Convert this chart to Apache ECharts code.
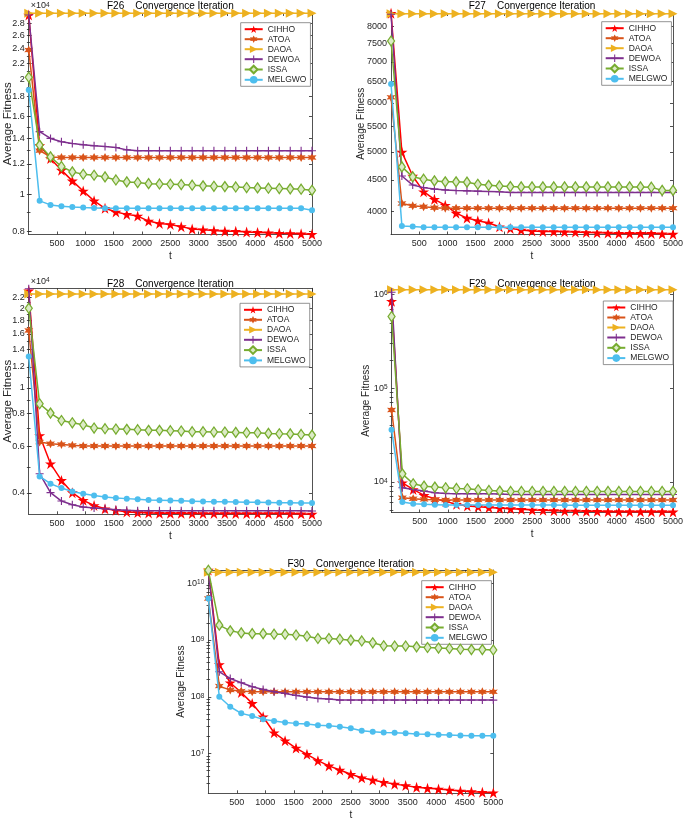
<!DOCTYPE html>
<html>
<head>
<meta charset="utf-8">
<script src="https://cdn.jsdelivr.net/npm/echarts@6/dist/echarts.min.js"></script>
<style>
  html, body { margin: 0; padding: 0; background: #fff; }
  #chart { width: 685px; height: 821px; }
</style>
</head>
<body>
<div id="chart"></div>
<script>
// iterations where markers sit
const iters = [1, 193, 385, 578, 770, 962, 1154, 1347, 1539, 1731, 1923, 2116, 2308, 2500,
  2692, 2885, 3077, 3269, 3462, 3654, 3846, 4039, 4231, 4423, 4616, 4808, 5000]
const algos = ['CIHHO', 'ATOA', 'DAOA', 'DEWOA', 'ISSA', 'MELGWO']
const xTicks = [500, 1000, 1500, 2000, 2500, 3000, 3500, 4000, 4500, 5000]

// F26
const f26Cihho = [29400, 13400, 12400, 11560, 10840, 10200, 9610, 9190, 8990, 8860, 8770, 8510, 8390, 8340,
  8230, 8110, 8080, 8040, 8010, 8000, 7970, 7950, 7930, 7910, 7900, 7880, 7860]
const f26Atoa = [23800, 13000, 12520, 12470, 12470, 12470, 12470, 12470, 12470, 12470, 12470, 12470, 12470, 12470,
  12470, 12470, 12470, 12470, 12470, 12470, 12470, 12470, 12470, 12470, 12470, 12470, 12470]
const f26Daoa = [29700, 29700, 29700, 29700, 29700, 29700, 29700, 29700, 29700, 29700, 29700, 29700, 29700, 29700,
  29700, 29700, 29700, 29700, 29700, 29700, 29700, 29700, 29700, 29700, 29700, 29700, 29700]
const f26Dewoa = [29400, 14570, 13990, 13710, 13570, 13470, 13390, 13330, 13250, 13060, 12990, 12990, 12990, 12990,
  12990, 12990, 12990, 12990, 12990, 12990, 12990, 12990, 12990, 12990, 12990, 12990, 12990]
const f26Issa = [20220, 13440, 12520, 11820, 11440, 11280, 11210, 11100, 10900, 10770, 10730, 10660, 10640, 10620,
  10600, 10560, 10520, 10490, 10470, 10450, 10410, 10390, 10370, 10350, 10330, 10310, 10240]
const f26Melgwo = [18730, 9610, 9380, 9300, 9260, 9230, 9210, 9190, 9190, 9190, 9190, 9190, 9190, 9190,
  9190, 9190, 9190, 9190, 9190, 9190, 9190, 9190, 9190, 9190, 9190, 9190, 9080]
const f26Ticks = [8000, 10000, 12000, 14000, 16000, 18000, 20000, 22000, 24000, 26000, 28000]

// F27
const f27Cihho = [8390, 4994, 4567, 4307, 4186, 4095, 3975, 3902, 3864, 3830, 3778, 3755, 3731, 3720,
  3712, 3712, 3707, 3703, 3698, 3694, 3689, 3685, 3685, 3685, 3685, 3680, 3675]
const f27Atoa = [6128, 4120, 4085, 4070, 4055, 4050, 4050, 4050, 4050, 4050, 4050, 4050, 4050, 4050,
  4050, 4050, 4050, 4050, 4050, 4050, 4050, 4050, 4050, 4050, 4050, 4050, 4050]
const f27Daoa = [8380, 8380, 8380, 8380, 8380, 8380, 8380, 8380, 8380, 8380, 8380, 8380, 8380, 8380,
  8380, 8380, 8380, 8380, 8380, 8380, 8380, 8380, 8380, 8380, 8380, 8380, 8380]
const f27Dewoa = [8360, 4567, 4415, 4373, 4349, 4336, 4326, 4321, 4316, 4311, 4305, 4295, 4295, 4295,
  4295, 4295, 4295, 4295, 4295, 4295, 4295, 4295, 4295, 4295, 4295, 4295, 4295]
const f27Issa = [7565, 4725, 4553, 4513, 4484, 4468, 4468, 4463, 4428, 4410, 4400, 4390, 4385, 4385,
  4385, 4385, 4385, 4385, 4385, 4385, 4385, 4385, 4385, 4385, 4380, 4328, 4328]
const f27Melgwo = [6440, 3790, 3780, 3771, 3771, 3771, 3771, 3771, 3771, 3771, 3771, 3771, 3771, 3771,
  3771, 3771, 3771, 3771, 3771, 3771, 3771, 3771, 3771, 3771, 3771, 3771, 3771]
const f27Ticks = [4000, 4500, 5000, 5500, 6000, 6500, 7000, 7500, 8000]

// F28
const f28Cihho = [23300, 6600, 5160, 4460, 4010, 3750, 3586, 3485, 3436, 3388, 3370, 3360, 3350, 3348,
  3347, 3346, 3345, 3345, 3344, 3343, 3342, 3341, 3340, 3340, 3338, 3336, 3325]
const f28Atoa = [16480, 6230, 6140, 6106, 6055, 6020, 6020, 6020, 6020, 6020, 6020, 6020, 6020, 6020,
  6020, 6020, 6020, 6020, 6020, 6020, 6020, 6020, 6020, 6020, 6020, 6020, 6020]
const f28Daoa = [22660, 22660, 22660, 22660, 22660, 22660, 22660, 22660, 22660, 22660, 22660, 22660, 22660, 22660,
  22660, 22660, 22660, 22660, 22660, 22660, 22660, 22660, 22660, 22660, 22660, 22660, 22660]
const f28Dewoa = [23700, 4728, 4009, 3726, 3608, 3536, 3505, 3485, 3455, 3436, 3426, 3426, 3426, 3426,
  3426, 3426, 3426, 3426, 3426, 3426, 3426, 3426, 3426, 3426, 3426, 3426, 3416]
const f28Issa = [20010, 8700, 8020, 7520, 7370, 7250, 7040, 7000, 6980, 6960, 6940, 6900, 6900, 6880,
  6860, 6820, 6820, 6800, 6800, 6780, 6760, 6760, 6720, 6700, 6690, 6660, 6620]
const f28Melgwo = [13140, 4620, 4333, 4172, 4053, 3972, 3915, 3860, 3827, 3806, 3785, 3764, 3754, 3743,
  3733, 3723, 3713, 3705, 3700, 3695, 3690, 3685, 3680, 3675, 3670, 3665, 3660]
const f28Ticks = [4000, 6000, 8000, 10000, 12000, 14000, 16000, 18000, 20000, 22000]

// F29
const f29Cihho = [850000, 9760, 8290, 7160, 6600, 6180, 5750, 5520, 5430, 5300, 5210, 5170, 5080, 5000,
  4960, 4920, 4880, 4880, 4840, 4840, 4800, 4800, 4800, 4800, 4800, 4800, 4770]
const f29Atoa = [58600, 6760, 6600, 6490, 6440, 6390, 6390, 6390, 6390, 6390, 6390, 6390, 6390, 6390,
  6390, 6390, 6390, 6390, 6390, 6390, 6390, 6390, 6390, 6390, 6390, 6390, 6390]
const f29Daoa = [1130000, 1130000, 1130000, 1130000, 1130000, 1130000, 1130000, 1130000, 1130000, 1130000,
  1130000, 1130000, 1130000, 1130000, 1130000, 1130000, 1130000, 1130000, 1130000, 1130000, 1130000,
  1130000, 1130000, 1130000, 1130000, 1130000, 1130000]
const f29Dewoa = [1060000, 8635, 8290, 7960, 7640, 7520, 7460, 7460, 7460, 7460, 7400, 7330, 7330, 7330,
  7330, 7330, 7330, 7330, 7330, 7330, 7330, 7330, 7330, 7330, 7330, 7330, 7330]
const f29Issa = [584000, 12160, 9520, 8990, 8780, 8635, 8490, 8430, 8220, 8090, 7960, 7890, 7890, 7890,
  7890, 7890, 7890, 7890, 7890, 7890, 7890, 7890, 7890, 7890, 7890, 7890, 7890]
const f29Melgwo = [35950, 6080, 5840, 5750, 5700, 5650, 5640, 5640, 5640, 5640, 5640, 5640, 5640, 5640,
  5640, 5640, 5620, 5620, 5620, 5620, 5620, 5620, 5620, 5620, 5620, 5620, 5610]
const f29Ticks = [1e4, 1e5, 1e6]

// F30
const f30Cihho = [1.7e10, 3.7e8, 1.76e8, 1.19e8, 7.64e7, 4.45e7, 2.33e7, 1.685e7, 1.25e7, 9.7e6, 7.5e6, 6.07e6,
  5.15e6, 4.33e6, 3.75e6, 3.43e6, 3.12e6, 2.9e6, 2.73e6, 2.55e6, 2.45e6, 2.38e6, 2.29e6, 2.2e6, 2.14e6, 2.08e6, 2.05e6]
const f30Atoa = [5.35e9, 1.54e8, 1.31e8, 1.257e8, 1.224e8, 1.22e8, 1.22e8, 1.22e8, 1.22e8, 1.22e8, 1.22e8, 1.22e8,
  1.22e8, 1.22e8, 1.22e8, 1.22e8, 1.22e8, 1.22e8, 1.22e8, 1.22e8, 1.22e8, 1.22e8, 1.22e8, 1.22e8, 1.22e8, 1.22e8, 1.22e8]
const f30Daoa = [1.55e10, 1.55e10, 1.55e10, 1.55e10, 1.55e10, 1.55e10, 1.55e10, 1.55e10, 1.55e10, 1.55e10,
  1.55e10, 1.55e10, 1.55e10, 1.55e10, 1.55e10, 1.55e10, 1.55e10, 1.55e10, 1.55e10, 1.55e10, 1.55e10,
  1.55e10, 1.55e10, 1.55e10, 1.55e10, 1.55e10, 1.55e10]
const f30Dewoa = [1.65e10, 2.75e8, 2.1e8, 1.763e8, 1.499e8, 1.346e8, 1.224e8, 1.144e8, 1.055e8, 9.87e7, 9.35e7,
  9.1e7, 8.74e7, 8.74e7, 8.74e7, 8.74e7, 8.74e7, 8.74e7, 8.74e7, 8.74e7, 8.74e7, 8.74e7, 8.74e7, 8.74e7,
  8.74e7, 8.74e7, 8.74e7]
const f30Issa = [1.68e10, 1.82e9, 1.445e9, 1.33e9, 1.29e9, 1.29e9, 1.26e9, 1.26e9, 1.22e9, 1.16e9, 1.06e9, 1.06e9,
  1.03e9, 9.9e8, 9.6e8, 8.9e8, 7.9e8, 7.8e8, 7.8e8, 7.56e8, 7.36e8, 7.2e8, 7.06e8, 6.85e8, 6.75e8, 6.75e8, 6.65e8]
const f30Melgwo = [5.35e9, 1.0e8, 6.67e7, 5.1e7, 4.57e7, 4.0e7, 3.73e7, 3.54e7, 3.4e7, 3.31e7, 3.14e7, 3.09e7,
  2.97e7, 2.78e7, 2.53e7, 2.42e7, 2.36e7, 2.33e7, 2.27e7, 2.2e7, 2.18e7, 2.15e7, 2.12e7, 2.09e7, 2.06e7, 2.06e7, 2.06e7]
const f30Ticks = [1e7, 1e8, 1e9, 1e10]

const FONT = 'Liberation Sans, Arial, sans-serif'
const INK = '#262626'

const STAR = 'path://M50,0L61.2,34.5L97.6,34.5L68.2,55.9L79.4,90.5L50,69.1L20.6,90.5L31.8,55.9L2.4,34.5L38.8,34.5Z'
const HEXA = 'path://M50,0L62.5,28.3L93.3,25L75,50L93.3,75L62.5,71.7L50,100L37.5,71.7L6.7,75L25,50L6.7,25L37.5,28.3Z'
const TRI = 'path://M0,0L100,50L0,100Z'
const PLUS = 'path://M43,0H57V43H100V57H57V100H43V57H0V43H43Z'

const look = {
  CIHHO: { color: '#FF0000', symbol: STAR, size: 11 },
  ATOA: { color: '#D95319', symbol: HEXA, size: 9 },
  DAOA: { color: '#EDB120', symbol: TRI, size: 9 },
  DEWOA: { color: '#7E2F8E', symbol: PLUS, size: 8 },
  ISSA: { color: '#77AC30', symbol: 'diamond', size: [7, 10], fill: '#dcebc6' },
  MELGWO: { color: '#4DBEEE', symbol: 'circle', size: 6 }
}

const fmtSci = v => (Math.round(Math.pow(10, v) / 1000) / 10).toString()
const fmtInt = v => Math.round(Math.pow(10, v)).toString()
const fmtPow = v => '{b|10}{s|' + Math.round(v) + '}'

function decadeMinors(lo, hi) {
  const out = []
  for (let e = Math.floor(Math.log10(lo)); e <= Math.ceil(Math.log10(hi)); e++) {
    for (let m = 2; m <= 9; m++) {
      const v = m * Math.pow(10, e)
      if (v > lo && v < hi) out.push(v)
    }
  }
  return out
}
function stepMinors(lo, hi, step) {
  const out = []
  for (let v = Math.ceil(lo / step) * step; v < hi; v += step) out.push(v)
  return out
}

const panels = [
  { title: 'F26    Convergence Iteration', rect: [28.7, 13, 283.3, 221.5], yMin: 7850, yMax: 29750,
    ticks: f26Ticks, minors: stepMinors(7850, 29750, 1000), fmt: fmtSci, exp: '4',
    gapY: 14.6, nameSize: 11.5, titleY: 6, legend: [240.7, 22.7],
    series: [f26Cihho, f26Atoa, f26Daoa, f26Dewoa, f26Issa, f26Melgwo] },
  { title: 'F27    Convergence Iteration', rect: [391, 13, 282, 221.5], yMin: 3670, yMax: 8400,
    ticks: f27Ticks, minors: [], fmt: fmtInt,
    gapY: 24.3, nameSize: 10, titleY: 6, legend: [601.7, 21.7],
    series: [f27Cihho, f27Atoa, f27Daoa, f27Dewoa, f27Issa, f27Melgwo] },
  { title: 'F28    Convergence Iteration', rect: [28.7, 288.3, 283.3, 226], yMin: 3320, yMax: 23800,
    ticks: f28Ticks, minors: stepMinors(3320, 23800, 1000), fmt: fmtSci, exp: '4',
    gapY: 14.6, nameSize: 11.5, titleY: 284, legend: [240, 303.3],
    series: [f28Cihho, f28Atoa, f28Daoa, f28Dewoa, f28Issa, f28Melgwo] },
  { title: 'F29    Convergence Iteration', rect: [391.5, 289, 281.5, 223.5], yMin: 4700, yMax: 1.15e6,
    ticks: f29Ticks, minors: decadeMinors(4700, 1.15e6), fmt: fmtPow,
    gapY: 20.5, nameSize: 10, titleY: 284, legend: [603.3, 301],
    series: [f29Cihho, f29Atoa, f29Daoa, f29Dewoa, f29Issa, f29Melgwo] },
  { title: 'F30    Convergence Iteration', rect: [208.3, 570, 285, 223.3], yMin: 2.0e6, yMax: 1.7e10,
    ticks: f30Ticks, minors: decadeMinors(2.0e6, 1.7e10), fmt: fmtPow,
    gapY: 21.6, nameSize: 10, titleY: 564, legend: [421.7, 580.7],
    series: [f30Cihho, f30Atoa, f30Daoa, f30Dewoa, f30Issa, f30Melgwo] }
]

const grid = []
const xAxis = []
const yAxis = []
const series = []
const legend = []
const graphic = []

const lineStyle = { color: INK, width: 0.8 }
const labelStyle = { color: INK, fontSize: 9, fontFamily: FONT }

panels.forEach((p, i) => {
  const [l, t, w, h] = p.rect
  grid.push({ left: l, top: t, width: w, height: h, outerBoundsMode: 'none', show: false })

  const xBase = {
    gridIndex: i, type: 'value', min: 0, max: 5000, splitLine: { show: false },
    axisLine: { show: true, onZero: false, lineStyle },
    axisTick: { show: true, inside: true, length: 3, customValues: xTicks, lineStyle }
  }
  xAxis.push(Object.assign({}, xBase, {
    position: 'bottom',
    axisLabel: Object.assign({ customValues: xTicks, margin: 5, formatter: v => String(v) }, labelStyle),
    name: 't', nameLocation: 'middle', nameGap: 17, nameMoveOverlap: false,
    nameTextStyle: { color: INK, fontSize: 10, fontFamily: FONT }
  }))
  xAxis.push(Object.assign({}, xBase, { position: 'top', axisLabel: { show: false } }))

  const logTicks = p.ticks.map(Math.log10)
  const logMinors = p.minors.map(Math.log10)
  const yBase = {
    gridIndex: i, type: 'value', min: Math.log10(p.yMin), max: Math.log10(p.yMax),
    splitLine: { show: false }, axisLine: { show: true, onZero: false, lineStyle }
  }
  yAxis.push(Object.assign({}, yBase, {
    position: 'left',
    axisTick: { show: true, inside: true, length: 3, customValues: logTicks, lineStyle },
    axisLabel: Object.assign({
      customValues: logTicks, margin: 4, formatter: p.fmt,
      rich: {
        b: { fontSize: 9, color: INK, fontFamily: FONT },
        s: { fontSize: 6.5, color: INK, fontFamily: FONT, verticalAlign: 'top' }
      }
    }, labelStyle),
    name: 'Average Fitness', nameLocation: 'middle', nameGap: p.gapY, nameMoveOverlap: false,
    nameTextStyle: { color: INK, fontSize: p.nameSize, fontFamily: FONT }
  }))
  yAxis.push(Object.assign({}, yBase, {
    position: 'right',
    axisTick: { show: true, inside: true, length: 3, customValues: logTicks, lineStyle },
    axisLabel: { show: false }
  }))
  const minorTick = { show: p.minors.length > 0, inside: true, length: 1.8, customValues: logMinors, lineStyle }
  yAxis.push(Object.assign({}, yBase, { position: 'left', axisLine: { show: false }, axisTick: minorTick, axisLabel: { show: false } }))
  yAxis.push(Object.assign({}, yBase, { position: 'right', axisLine: { show: false }, axisTick: minorTick, axisLabel: { show: false } }))

  algos.forEach((name, k) => {
    const st = look[name]
    series.push({
      type: 'line', name,
      xAxisIndex: i * 2, yAxisIndex: i * 4,
      data: iters.map((it, j) => [it, Math.log10(p.series[k][j])]),
      symbol: st.symbol, symbolSize: st.size,
      lineStyle: { color: st.color, width: 1.5 },
      itemStyle: st.fill
        ? { color: st.fill, borderColor: st.color, borderWidth: 1.3 }
        : { color: st.color, borderWidth: 0 },
      clip: false,
      emphasis: { disabled: true },
      z: 2 + k
    })
  })

  legend.push({
    orient: 'vertical', left: p.legend[0], top: p.legend[1],
    data: algos, itemWidth: 18, itemHeight: 9.5, itemGap: 1,
    padding: [2, 4, 2, 3], borderColor: '#777', borderWidth: 0.8, backgroundColor: '#fff',
    textStyle: { color: INK, fontSize: 8.5, fontFamily: FONT }, selectedMode: false
  })

  graphic.push({
    type: 'text', x: l + w / 2, y: p.titleY,
    style: { text: p.title, fill: '#000', font: '10px ' + FONT, align: 'center', verticalAlign: 'middle' }
  })
  if (p.exp) {
    graphic.push({
      type: 'text', x: l + 2, y: t - 7,
      style: {
        text: '{a|×10}{b|' + p.exp + '}', verticalAlign: 'middle',
        rich: {
          a: { fontSize: 9, fill: INK, fontFamily: FONT },
          b: { fontSize: 6.5, fill: INK, fontFamily: FONT, verticalAlign: 'top' }
        }
      }
    })
  }
})

const chart = echarts.init(document.getElementById('chart'))
chart.setOption({
  animation: false,
  backgroundColor: '#fff',
  grid, xAxis, yAxis, series, legend, graphic
})
window.addEventListener('resize', () => chart.resize())
</script>
</body>
</html>
